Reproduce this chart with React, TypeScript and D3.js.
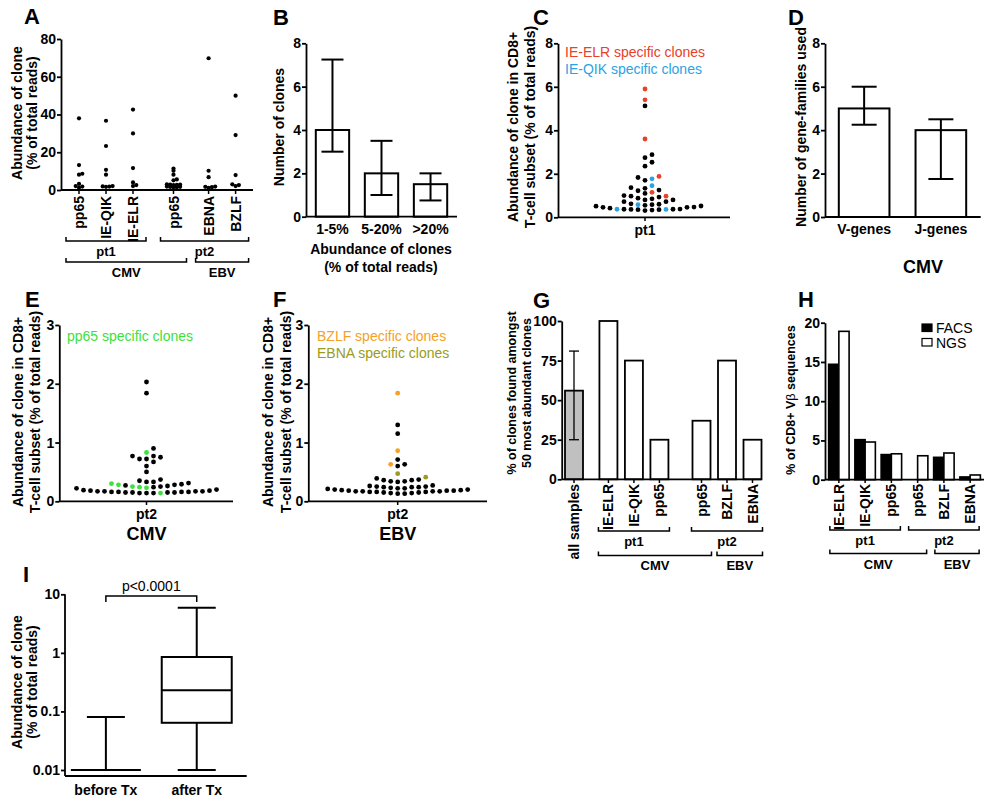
import React, { useEffect, useRef } from "react";
import * as d3 from "d3";

const FONT = "'Liberation Sans', Arial, Helvetica, sans-serif";

// ---- A: abundance of clone per epitope
const aCategories = ["pp65", "IE-QIK", "IE-ELR", "pp65", "EBNA", "BZLF"];
const aPatients = ["pt1", "pt1", "pt1", "pt2", "pt2", "pt2"];
const aViruses = ["CMV", "CMV", "CMV", "CMV", "EBV", "EBV"];
const aValues = [
  [38, 13.2, 8.6, 8.1, 3.2, 2.1, 1.8, 1.2],
  [36.7, 23.3, 10.7, 8.1, 2.1, 1.9, 1.8, 1.7],
  [42.6, 30, 11.6, 4, 2.6, 2.1],
  [11.4, 10.2, 8.1, 5.6, 5.1, 3.0, 2.9, 2.8, 2.7, 2.6, 1.8, 1.7, 1.6, 1.5, 1.4],
  [69.8, 10.2, 6.8, 1.8, 1.7, 1.5, 1.2],
  [50, 29.1, 7.9, 3.0, 2.6, 2.1],
];
const aTicks = [0, 20, 40, 60, 80];

// ---- B: number of clones by abundance
const bCategories = ["1-5%", "5-20%", ">20%"];
const bMean = [4, 2, 1.5];
const bLow = [3, 1, 0.75];
const bHigh = [7.25, 3.5, 2];
const bTicks = [0, 2, 4, 6, 8];

// ---- C: pt1 CD8+ subset
const cBlack = [5.12, 2.88, 2.74, 2.53, 2.35, 1.83, 1.7, 1.36, 1.33, 1.25, 1.22, 1.1, 1.0, 0.97, 0.93,
  0.88, 0.85, 0.8, 0.8, 0.72, 0.72, 0.62, 0.6, 0.58, 0.55, 0.52, 0.51, 0.47, 0.46, 0.46, 0.42,
  0.38, 0.37, 0.37, 0.36, 0.35, 0.35, 0.33, 0.31];
const cElr = [5.9, 5.4, 3.6, 1.88, 1.15, 0.97];
const cQik = [1.77, 1.45, 0.58, 0.36, 0.37];
const cTicks = [0, 2, 4, 6, 8];

// ---- D: gene families used
const dCategories = ["V-genes", "J-genes"];
const dMean = [5, 4];
const dLow = [4.25, 1.75];
const dHigh = [6, 4.5];
const dTicks = [0, 2, 4, 6, 8];

// ---- E: pt2 CMV
const eBlack = [2.03, 1.84, 0.9, 0.77, 0.77, 0.75, 0.72, 0.72, 0.67, 0.6, 0.5, 0.37, 0.35, 0.33, 0.33,
  0.31, 0.29, 0.28, 0.27, 0.26, 0.25, 0.24, 0.22, 0.2, 0.19, 0.18, 0.18, 0.17, 0.17, 0.17, 0.16,
  0.16, 0.16, 0.15, 0.15, 0.15, 0.15, 0.14, 0.14, 0.14, 0.16, 0.17];
const ePp65 = [0.83, 0.3, 0.28, 0.25, 0.24, 0.23, 0.14];

// ---- F: pt2 EBV
const fBlack = [1.3, 1.15, 0.71, 0.63, 0.6, 0.39, 0.37, 0.36, 0.36, 0.34, 0.34, 0.33, 0.27, 0.26,
  0.25, 0.25, 0.24, 0.24, 0.24, 0.23, 0.22, 0.22, 0.21, 0.2, 0.2, 0.19, 0.19, 0.18, 0.18, 0.18,
  0.17, 0.17, 0.17, 0.17, 0.16, 0.16, 0.16, 0.15, 0.15, 0.14, 0.14, 0.13, 0.13];
const fBzlf = [1.84, 0.86, 0.63];
const fEbna = [0.47, 0.41];
const eTicks = [0, 1, 2, 3];

// ---- G: clones found amongst 50 most abundant
const gCategories = ["all samples", "IE-ELR", "IE-QIK", "pp65", "pp65", "BZLF", "EBNA"];
const gGroups = ["all", "pt1", "pt1", "pt1", "pt2", "pt2", "pt2"];
const gViruses = ["", "CMV", "CMV", "CMV", "CMV", "EBV", "EBV"];
const gValues = [56, 100, 75, 25, 37, 75, 25];
const gErrLow = 25;
const gErrHigh = 81;
const gTicks = [0, 25, 50, 75, 100];

// ---- H: FACS vs NGS
const hCategories = ["IE-ELR", "IE-QIK", "pp65", "pp65", "BZLF", "EBNA"];
const hPatients = ["pt1", "pt1", "pt1", "pt2", "pt2", "pt2"];
const hViruses = ["CMV", "CMV", "CMV", "CMV", "EBV", "EBV"];
const hSeries = ["FACS", "NGS"];
const hFacs = [14.7, 5.1, 3.2, 0, 2.85, 0.35];
const hNgs = [18.9, 4.8, 3.3, 3.05, 3.4, 0.6];
const hTicks = [0, 5, 10, 15, 20];

// ---- I: before / after Tx
const iCategories = ["before Tx", "after Tx"];
const iMin = [0.01, 0.01];
const iQ1 = [0.01, 0.064];
const iMedian = [0.01, 0.23];
const iQ3 = [0.01, 0.85];
const iMax = [0.08, 5.9];
const iTicks = [0.01, 0.1, 1, 10];

type Sel = d3.Selection<SVGGElement, unknown, null, undefined>;
interface TOpts {
  size?: number;
  weight?: string;
  anchor?: string;
  fill?: string;
  rotate?: boolean;
}

function txt(g: Sel, x: number, y: number, s: string, o: TOpts = {}) {
  const t = g
    .append("text")
    .attr("font-family", FONT)
    .attr("font-size", o.size ?? 14)
    .attr("font-weight", o.weight ?? "bold")
    .attr("text-anchor", o.anchor ?? "middle")
    .attr("fill", o.fill ?? "#000")
    .text(s);
  if (o.rotate) t.attr("transform", `translate(${x},${y}) rotate(-90)`).attr("dominant-baseline", "central");
  else t.attr("x", x).attr("y", y);
  return t;
}

function yAxis(g: Sel, scale: any, ticks: number[], x: number, fmt: (d: any) => string = String) {
  const a = g
    .append("g")
    .attr("transform", `translate(${x},0)`)
    .call(d3.axisLeft(scale).tickValues(ticks).tickSize(4).tickSizeOuter(0).tickPadding(1).tickFormat(fmt as any));
  a.attr("font-family", FONT).attr("font-size", 14).attr("font-weight", "bold");
  a.select(".domain").attr("stroke", "#000").attr("stroke-width", 1.8);
  a.selectAll(".tick line").attr("stroke", "#000").attr("stroke-width", 1.8);
  a.selectAll(".tick text").attr("fill", "#000");
  return a;
}

function hLine(g: Sel, x1: number, x2: number, y: number, w = 1.8) {
  g.append("line").attr("x1", x1).attr("x2", x2).attr("y1", y).attr("y2", y).attr("stroke", "#000").attr("stroke-width", w);
}

function bracket(g: Sel, x1: number, x2: number, y: number, label: string, ly: number) {
  g.append("path")
    .attr("d", `M${x1},${y - 4}V${y}H${x2}V${y - 4}`)
    .attr("fill", "none")
    .attr("stroke", "#000")
    .attr("stroke-width", 1.5);
  txt(g, (x1 + x2) / 2, ly, label, { size: 13 });
}

function yTitle(g: Sel, lines: string[], xs: number[], cy: number, size = 14) {
  lines.forEach((l, i) => txt(g, xs[i], cy, l, { rotate: true, size }));
}

// simple column beeswarm: lowest values nearest the centre
function swarm(vals: number[], y: (v: number) => number, step: number, minDy: number) {
  const order = d3.range(vals.length).sort((a, b) => vals[a] - vals[b]);
  const placed: { col: number; y: number }[] = [];
  const offs: number[] = new Array(vals.length).fill(0);
  order.forEach((i) => {
    const py = y(vals[i]);
    for (let k = 0; k < 200; k++) {
      const col = k === 0 ? 0 : k % 2 === 1 ? (k + 1) / 2 : -k / 2;
      if (!placed.some((p) => p.col === col && Math.abs(p.y - py) < minDy)) {
        placed.push({ col, y: py });
        offs[i] = col * step;
        break;
      }
    }
  });
  return offs;
}

function errorBar(g: Sel, x: number, y1: number, y2: number, cap: number, w = 2) {
  g.append("line").attr("x1", x).attr("x2", x).attr("y1", y1).attr("y2", y2).attr("stroke", "#000").attr("stroke-width", w);
  hLine(g, x - cap / 2, x + cap / 2, y1, w);
  hLine(g, x - cap / 2, x + cap / 2, y2, w);
}

function groupSpan(xs: number[], keys: string[], key: string, pad: number): [number, number] {
  const sel = xs.filter((_, i) => keys[i] === key);
  return [d3.min(sel)! - pad, d3.max(sel)! + pad];
}

const App: React.FC = () => {
  const svgRef = useRef<SVGSVGElement | null>(null);

  useEffect(() => {
    if (!svgRef.current) return;
    const svg = d3.select(svgRef.current);
    svg.selectAll("*").remove();
    const root = svg.append("g") as unknown as Sel;

    // panel letters
    const letters: [string, number, number][] = [
      ["A", 24, 24], ["B", 273, 25], ["C", 533, 25], ["D", 788, 25],
      ["E", 25, 307], ["F", 273, 307], ["G", 533, 308], ["H", 798, 307], ["I", 23, 582],
    ];
    letters.forEach(([l, x, y]) => txt(root, x, y, l, { size: 22, anchor: "start" }));

    // ================= A =================
    {
      const g = root.append("g") as Sel;
      const y = d3.scaleLinear().domain([0, 80]).range([190, 39]);
      const slot = aCategories.map((_, i) => i + (aPatients[i] === "pt2" ? 0.5 : 0) + (aViruses[i] === "EBV" ? 0.3 : 0));
      const x = d3.scaleLinear().domain([0, 1]).range([79, 106]);
      const xs = slot.map((s) => x(s));
      hLine(g, 61, 253, 190);
      yAxis(g, y, aTicks, 61);
      xs.forEach((cx, i) => {
        g.append("line").attr("x1", cx).attr("x2", cx).attr("y1", 190).attr("y2", 194).attr("stroke", "#000").attr("stroke-width", 1.5);
        const offs = swarm(aValues[i], y, 3.3, 1.8);
        aValues[i].forEach((v, j) => {
          g.append("circle").attr("cx", cx + offs[j]).attr("cy", y(v)).attr("r", 2.1).attr("fill", "#000");
        });
        txt(g, cx, 196, aCategories[i], { rotate: true, anchor: "end" });
      });
      const pt1 = groupSpan(xs, aPatients, "pt1", 13);
      const pt2 = groupSpan(xs, aPatients, "pt2", 13);
      bracket(g, pt1[0], pt1[1], 241, "pt1", 256);
      bracket(g, pt2[0], pt2[1], 241, "pt2", 256);
      const cmv = groupSpan(xs, aViruses, "CMV", 13);
      const ebv = groupSpan(xs, aViruses, "EBV", 13);
      bracket(g, cmv[0], cmv[1], 262, "CMV", 277);
      bracket(g, ebv[0], ebv[1], 262, "EBV", 277);
      yTitle(g, ["Abundance of clone", "(% of total reads)"], [17, 32], 113);
    }

    // ================= B =================
    {
      const g = root.append("g") as Sel;
      const y = d3.scaleLinear().domain([0, 8]).range([216.7, 43.3]);
      const x = d3.scaleBand<string>().domain(bCategories).range([306, 457]).paddingInner(0.32).paddingOuter(0.2);
      bCategories.forEach((c, i) => {
        g.append("rect")
          .attr("x", x(c)!).attr("width", x.bandwidth())
          .attr("y", y(bMean[i])).attr("height", y(0) - y(bMean[i]))
          .attr("fill", "#fff").attr("stroke", "#000").attr("stroke-width", 2);
        errorBar(g, x(c)! + x.bandwidth() / 2, y(bLow[i]), y(bHigh[i]), 22);
        txt(g, x(c)! + x.bandwidth() / 2, 234, c);
      });
      hLine(g, 306, 457, 216.7);
      yAxis(g, y, bTicks, 306);
      txt(g, 381, 254, "Abundance of clones");
      txt(g, 381, 272, "(% of total reads)");
      yTitle(g, ["Number of clones"], [279], 127);
    }

    // ================= C =================
    {
      const g = root.append("g") as Sel;
      const y = d3.scaleLinear().domain([0, 8]).range([217.3, 43.3]);
      const cx = 645;
      hLine(g, 558, 730, 217.3);
      g.append("line").attr("x1", cx).attr("x2", cx).attr("y1", 217.3).attr("y2", 221).attr("stroke", "#000").attr("stroke-width", 1.5);
      yAxis(g, y, cTicks, 558);
      const pts = [
        ...cBlack.map((v) => ({ v, c: "#000" })),
        ...cElr.map((v) => ({ v, c: "#e8402a" })),
        ...cQik.map((v) => ({ v, c: "#2ba3e3" })),
      ];
      const offs = swarm(pts.map((p) => p.v), y, 7, 5);
      pts.forEach((p, i) => g.append("circle").attr("cx", cx + offs[i]).attr("cy", y(p.v)).attr("r", 2.4).attr("fill", p.c));
      txt(g, cx, 235, "pt1");
      txt(g, 565, 57, "IE-ELR specific clones", { anchor: "start", weight: "normal", fill: "#e8402a" });
      txt(g, 565, 74, "IE-QIK specific clones", { anchor: "start", weight: "normal", fill: "#2ba3e3" });
      yTitle(g, ["Abundance of clone in CD8+", "T-cell subset (% of total reads)"], [513, 530], 127);
    }

    // ================= D =================
    {
      const g = root.append("g") as Sel;
      const y = d3.scaleLinear().domain([0, 8]).range([217, 43.3]);
      const x = d3.scaleBand<string>().domain(dCategories).range([825, 980]).paddingInner(0.34).paddingOuter(0.18);
      dCategories.forEach((c, i) => {
        g.append("rect")
          .attr("x", x(c)!).attr("width", x.bandwidth())
          .attr("y", y(dMean[i])).attr("height", y(0) - y(dMean[i]))
          .attr("fill", "#fff").attr("stroke", "#000").attr("stroke-width", 2);
        errorBar(g, x(c)! + x.bandwidth() / 2, y(dLow[i]), y(dHigh[i]), 25);
        txt(g, x(c)! + x.bandwidth() / 2, 234, c);
      });
      hLine(g, 825, 980.7, 217);
      yAxis(g, y, dTicks, 825);
      txt(g, 923, 273, "CMV", { size: 18 });
      yTitle(g, ["Number of gene-families used"], [801], 127);
    }

    // ================= E & F =================
    const swarmPanel = (
      ax: number, ax2: number, cx: number,
      pts: { v: number; c: string }[], label: string,
      titleXs: number[],
    ) => {
      const g = root.append("g") as Sel;
      const y = d3.scaleLinear().domain([0, 3]).range([501.3, 325]);
      hLine(g, ax, ax2, 501.3);
      g.append("line").attr("x1", cx).attr("x2", cx).attr("y1", 501.3).attr("y2", 505).attr("stroke", "#000").attr("stroke-width", 1.5);
      yAxis(g, y, eTicks, ax);
      const offs = swarm(pts.map((p) => p.v), y, 7, 5);
      pts.forEach((p, i) => g.append("circle").attr("cx", cx + offs[i]).attr("cy", y(p.v)).attr("r", 2.4).attr("fill", p.c));
      txt(g, cx, 519, "pt2");
      txt(g, cx, 540, label, { size: 18 });
      yTitle(g, ["Abundance of clone in CD8+", "T-cell subset (% of total reads)"], titleXs, 412);
      return g;
    };
    {
      const g = swarmPanel(59.3, 233, 146.5, [
        ...eBlack.map((v) => ({ v, c: "#000" })),
        ...ePp65.map((v) => ({ v, c: "#3de03d" })),
      ], "CMV", [18, 35]);
      txt(g, 67, 341, "pp65 specific clones", { anchor: "start", weight: "normal", fill: "#3de03d" });
    }
    {
      const g = swarmPanel(308.3, 487, 397.7, [
        ...fBlack.map((v) => ({ v, c: "#000" })),
        ...fBzlf.map((v) => ({ v, c: "#f5a127" })),
        ...fEbna.map((v) => ({ v, c: "#9a9b20" })),
      ], "EBV", [268, 286]);
      txt(g, 317, 341, "BZLF specific clones", { anchor: "start", weight: "normal", fill: "#f5a127" });
      txt(g, 317, 358, "EBNA specific clones", { anchor: "start", weight: "normal", fill: "#9a9b20" });
    }

    // ================= G =================
    {
      const g = root.append("g") as Sel;
      const y = d3.scaleLinear().domain([0, 100]).range([479.3, 321]);
      const slot = gGroups.map((grp, i) => i + (grp === "pt1" ? 0.35 : grp === "pt2" ? 1 : 0));
      const x = d3.scaleLinear().domain([0, 1]).range([574, 599.5]);
      const xs = slot.map((s) => x(s));
      const bw = 18;
      xs.forEach((cx, i) => {
        g.append("rect")
          .attr("x", cx - bw / 2).attr("width", bw)
          .attr("y", y(gValues[i])).attr("height", y(0) - y(gValues[i]))
          .attr("fill", gGroups[i] === "all" ? "#c0c0c0" : "#fff")
          .attr("stroke", "#000").attr("stroke-width", 1.8);
        g.append("line").attr("x1", cx).attr("x2", cx).attr("y1", 479.3).attr("y2", 483).attr("stroke", "#000").attr("stroke-width", 1.5);
        txt(g, cx, 484, gCategories[i], { rotate: true, anchor: "end" });
      });
      errorBar(g, xs[0], y(gErrLow), y(gErrHigh), 10, 1.3);
      hLine(g, 561.7, 761.7, 479.3);
      yAxis(g, y, gTicks, 561.7);
      const pt1 = groupSpan(xs, gGroups, "pt1", 10);
      const pt2 = groupSpan(xs, gGroups, "pt2", 10);
      bracket(g, pt1[0], pt1[1], 531, "pt1", 546);
      bracket(g, pt2[0], pt2[1], 531, "pt2", 546);
      const cmv = groupSpan(xs, gViruses, "CMV", 10);
      const ebv = groupSpan(xs, gViruses, "EBV", 10);
      bracket(g, cmv[0], cmv[1], 555.5, "CMV", 570);
      bracket(g, ebv[0], ebv[1], 555.5, "EBV", 570);
      yTitle(g, ["% of clones found amongst", "50 most abundant clones"], [511.5, 526.5], 393, 12.5);
    }

    // ================= H =================
    {
      const g = root.append("g") as Sel;
      const y = d3.scaleLinear().domain([0, 20]).range([479.7, 322.7]);
      const keys = hCategories.map((c, i) => `${c}-${hPatients[i]}`);
      const x = d3.scaleBand<string>().domain(keys).range([826, 983]).paddingInner(0.22).paddingOuter(0.1);
      const xs = keys.map((k) => x(k)! + x.bandwidth() / 2);
      const sub = d3.scaleBand<string>().domain(hSeries).range([0, x.bandwidth()]);
      const fill = d3.scaleOrdinal<string, string>().domain(hSeries).range(["#000", "#fff"]);
      keys.forEach((k, i) => {
        [hFacs[i], hNgs[i]].forEach((v, s) => {
          if (v <= 0) return;
          g.append("rect")
            .attr("x", x(k)! + sub(hSeries[s])!).attr("width", sub.bandwidth())
            .attr("y", y(v)).attr("height", y(0) - y(v))
            .attr("fill", fill(hSeries[s])).attr("stroke", "#000").attr("stroke-width", 1.6);
        });
        g.append("line").attr("x1", xs[i]).attr("x2", xs[i]).attr("y1", 479.7).attr("y2", 483).attr("stroke", "#000").attr("stroke-width", 1.5);
        txt(g, xs[i], 484, hCategories[i], { rotate: true, anchor: "end" });
      });
      hLine(g, 825, 984, 479.7);
      yAxis(g, y, hTicks, 825);
      const pt1 = groupSpan(xs, hPatients, "pt1", 9);
      const pt2 = groupSpan(xs, hPatients, "pt2", 9);
      bracket(g, pt1[0], pt1[1], 530, "pt1", 545);
      bracket(g, pt2[0], pt2[1], 530, "pt2", 545);
      const cmv = groupSpan(xs, hViruses, "CMV", 9);
      const ebv = groupSpan(xs, hViruses, "EBV", 9);
      bracket(g, cmv[0], cmv[1], 553.5, "CMV", 569);
      bracket(g, ebv[0], ebv[1], 553.5, "EBV", 569);
      hSeries.forEach((s, i) => {
        g.append("rect").attr("x", 922).attr("y", 324 + i * 14.5).attr("width", 10).attr("height", 7.5)
          .attr("fill", fill(s)).attr("stroke", "#000").attr("stroke-width", 1.2);
        txt(g, 936, 333 + i * 14.5, s, { anchor: "start", weight: "normal" });
      });
      const t = txt(g, 791, 400, "% of CD8+ V", { rotate: true, size: 12.5 });
      t.append("tspan").attr("font-weight", "normal").text("β");
      t.append("tspan").text(" sequences");
    }

    // ================= I =================
    {
      const g = root.append("g") as Sel;
      const y = d3.scaleLog().domain([0.01, 10]).range([770, 594.3]);
      const x = d3.scalePoint<string>().domain(iCategories).range([65, 246.7]).padding(0.5).align(0.45);
      g.append("line").attr("x1", 65).attr("x2", 65).attr("y1", 776).attr("y2", 594.3).attr("stroke", "#000").attr("stroke-width", 1.8);
      const a = yAxis(g, y, iTicks, 65, (d: number) => String(d));
      a.select(".domain").remove();
      hLine(g, 65, 246.7, 776);
      const bw = 70;
      const cap = 38;
      iCategories.forEach((c, i) => {
        const cx = x(c)!;
        g.append("line").attr("x1", cx).attr("x2", cx).attr("y1", y(iMax[i])).attr("y2", y(iQ3[i])).attr("stroke", "#000").attr("stroke-width", 2);
        g.append("line").attr("x1", cx).attr("x2", cx).attr("y1", y(iQ1[i])).attr("y2", y(iMin[i])).attr("stroke", "#000").attr("stroke-width", 2);
        hLine(g, cx - cap / 2, cx + cap / 2, y(iMax[i]), 2);
        hLine(g, cx - cap / 2, cx + cap / 2, y(iMin[i]), 2);
        g.append("rect").attr("x", cx - bw / 2).attr("width", bw)
          .attr("y", y(iQ3[i])).attr("height", Math.max(0, y(iQ1[i]) - y(iQ3[i])))
          .attr("fill", "#fff").attr("stroke", "#000").attr("stroke-width", 2);
        hLine(g, cx - bw / 2, cx + bw / 2, y(iMedian[i]), 2);
        txt(g, cx, 795, c);
      });
      const x1 = x(iCategories[0])!;
      const x2 = x(iCategories[1])!;
      g.append("path").attr("d", `M${x1},602V596H${x2}V602`).attr("fill", "none").attr("stroke", "#000").attr("stroke-width", 1.5);
      txt(g, (x1 + x2) / 2, 591, "p<0.0001", { weight: "normal" });
      yTitle(g, ["Abundance of clone", "(% of total reads)"], [17, 32], 682);
    }
  }, []);

  return (
    <svg
      ref={svgRef}
      width={991}
      height={800}
      style={{ position: "absolute", left: 0, top: 0, background: "#fff" }}
    />
  );
};

export default App;
